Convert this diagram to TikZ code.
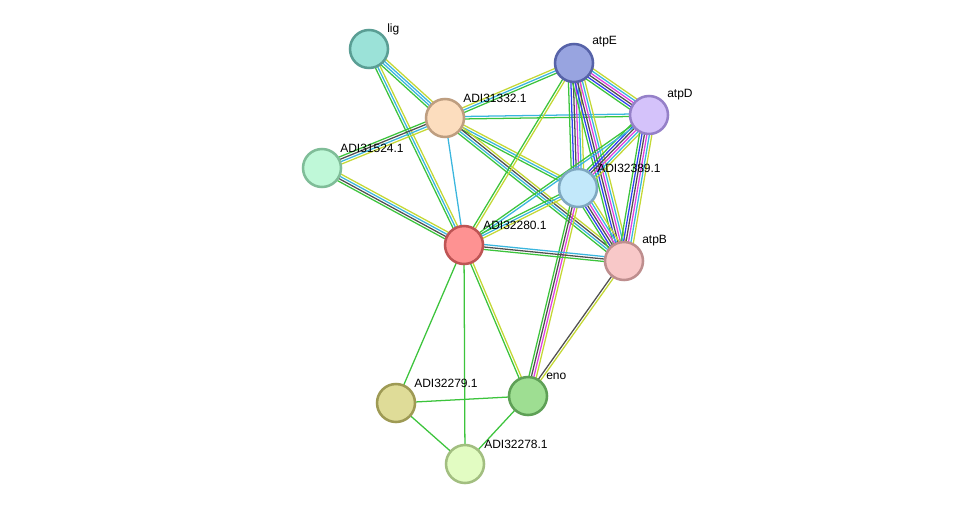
\documentclass[tikz,border=0pt]{standalone}
\usepackage{fontspec}
\setmainfont{Liberation Sans}
\usetikzlibrary{calc,backgrounds}
\definecolor{cNb}{HTML}{3CC43C}
\definecolor{cTm}{HTML}{C4D834}
\definecolor{cDb}{HTML}{3AB6DE}
\definecolor{cCo}{HTML}{505050}
\definecolor{cEx}{HTML}{E040E0}
\definecolor{cCc}{HTML}{3040F0}
\tikzset{
  prot/.style={circle,minimum size=28.5pt,inner sep=0pt,line width=1.9pt},
  lab/.style={anchor=west,font=\fontsize{9}{10}\selectfont,inner sep=0pt},
  evl/.style={line width=0.95pt}
}
\newcommand\stredge[3]{%
  \foreach \cc [count=\ii] in {#3} {\xdef\nnn{\ii}}%
  \foreach \cc [count=\ii] in {#3} {%
    \pgfmathsetmacro\dd{(\ii-(\nnn+1)/2)*1.85}%
    \draw[evl,\cc] ($(#1.center)!\dd pt!90:(#2.center)$) -- ($(#2.center)!\dd pt!-90:(#1.center)$);}%
}
\begin{document}
\begin{tikzpicture}[x=0.75pt,y=-0.75pt]
\useasboundingbox (0,0) rectangle (975,510);
\node[prot,fill={rgb,255:red,155;green,226;blue,216},draw={rgb,255:red,90;green,158;blue,148}] (lig) at (369,49) {};
\node[prot,fill={rgb,255:red,152;green,164;blue,224},draw={rgb,255:red,86;green,98;blue,168}] (atpE) at (574,63) {};
\node[prot,fill={rgb,255:red,212;green,194;blue,250},draw={rgb,255:red,149;green,128;blue,200}] (atpD) at (649,115) {};
\node[prot,fill={rgb,255:red,252;green,221;blue,190},draw={rgb,255:red,190;green,158;blue,128}] (n31332) at (445,118) {};
\node[prot,fill={rgb,255:red,191;green,248;blue,216},draw={rgb,255:red,127;green,189;blue,152}] (n31524) at (322,168) {};
\node[prot,fill={rgb,255:red,194;green,232;blue,250},draw={rgb,255:red,127;green,168;blue,192}] (n32389) at (578,188) {};
\node[prot,fill={rgb,255:red,254;green,146;blue,146},draw={rgb,255:red,190;green,84;blue,84}] (n32280) at (464,245) {};
\node[prot,fill={rgb,255:red,248;green,200;blue,200},draw={rgb,255:red,190;green,142;blue,142}] (atpB) at (624,261) {};
\node[prot,fill={rgb,255:red,223;green,220;blue,152},draw={rgb,255:red,158;green,154;blue,84}] (n32279) at (396,403) {};
\node[prot,fill={rgb,255:red,158;green,222;blue,146},draw={rgb,255:red,94;green,160;blue,86}] (eno) at (528,396) {};
\node[prot,fill={rgb,255:red,226;green,252;blue,194},draw={rgb,255:red,162;green,190;blue,128}] (n32278) at (465,464) {};
\node[lab] (llig) at (387,29) {lig};
\node[lab] (latpE) at (592,42) {atpE};
\node[lab] (latpD) at (667,95) {atpD};
\node[lab] (l31332) at (463,98) {ADI31332.1};
\node[lab] (l31524) at (340,148) {ADI31524.1};
\node[lab] (l32389) at (597,168) {ADI32389.1};
\node[lab] (l32280) at (483,225) {ADI32280.1};
\node[lab] (latpB) at (642,241) {atpB};
\node[lab] (l32279) at (414,383) {ADI32279.1};
\node[lab] (leno) at (546,376) {eno};
\node[lab] (l32278) at (484,444) {ADI32278.1};
\begin{pgfonlayer}{background}
\fill[white] (0,0) rectangle (975,510);
\stredge{lig}{n31332}{cNb,cDb,cDb,cTm}
\stredge{lig}{n32280}{cNb,cDb,cTm}
\stredge{n31332}{n31524}{cNb,cCo,cDb,cTm}
\stredge{n31524}{n32280}{cNb,cCo,cDb,cTm}
\stredge{n31332}{n32280}{cDb}
\stredge{n31332}{atpE}{cNb,cDb,cTm}
\stredge{n31332}{atpD}{cNb,cDb}
\stredge{n31332}{n32389}{cNb,cDb,cTm}
\stredge{n31332}{atpB}{cNb,cDb,cCo,cTm}
\stredge{atpE}{atpD}{cNb,cCc,cCo,cEx,cDb,cTm}
\stredge{atpE}{n32389}{cNb,cCc,cCo,cEx,cDb,cTm}
\stredge{atpE}{atpB}{cNb,cCc,cCo,cEx,cDb,cTm}
\stredge{atpE}{n32280}{cNb,cTm}
\stredge{atpD}{n32389}{cNb,cCc,cCo,cEx,cDb,cTm}
\stredge{atpD}{atpB}{cNb,cCc,cCo,cEx,cDb,cTm}
\stredge{atpD}{n32280}{cNb,cDb}
\stredge{n32389}{n32280}{cNb,cDb,cTm}
\stredge{n32389}{atpB}{cNb,cCc,cCo,cEx,cDb,cTm}
\stredge{n32389}{eno}{cNb,cCo,cEx,cTm}
\stredge{n32280}{atpB}{cNb,cCo,cDb}
\stredge{n32280}{eno}{cNb,cTm}
\stredge{atpB}{eno}{cCo,cTm}
\stredge{n32280}{n32279}{cNb}
\stredge{n32280}{n32278}{cNb}
\stredge{n32279}{eno}{cNb}
\stredge{n32279}{n32278}{cNb}
\stredge{eno}{n32278}{cNb}
\end{pgfonlayer}
\end{tikzpicture}
\end{document}
